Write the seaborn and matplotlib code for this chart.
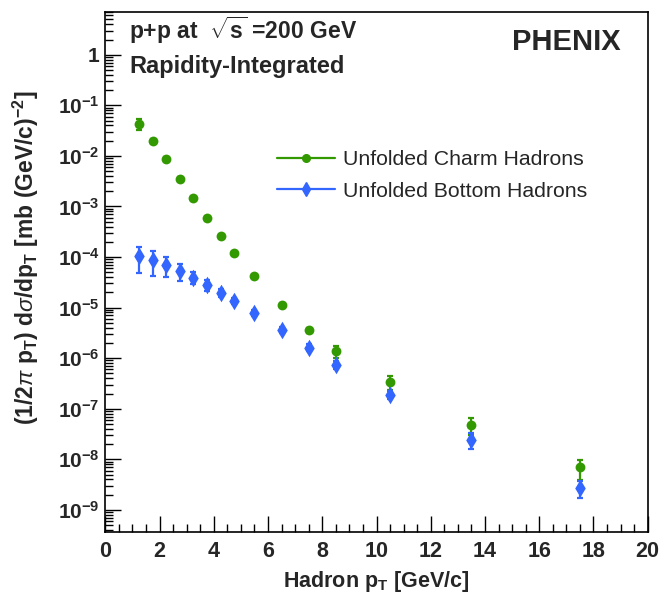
import numpy as np
import pandas as pd
import matplotlib
matplotlib.use("Agg")
import matplotlib.pyplot as plt
import matplotlib.ticker as mticker
from matplotlib.lines import Line2D
import seaborn as sns

# données (PHENIX, p+p à 200 GeV)
pt = [1.25, 1.75, 2.25, 2.75, 3.25, 3.75, 4.25, 4.75, 5.5, 6.5, 7.5, 8.5, 10.5, 13.5, 17.5]
charm = [4.27e-2, 2.0e-2, 8.7e-3, 3.55e-3, 1.45e-3, 5.9e-4, 2.58e-4, 1.19e-4, 4.2e-5,
         1.11e-5, 3.57e-6, 1.37e-6, 3.36e-7, 4.74e-8, 6.9e-9]
charm_err = [1.0e-2, 1.5e-3, 6e-4, 2.5e-4, 1e-4, 4e-5, 1.8e-5, 8e-6, 3e-6,
             1e-6, 4e-7, 3.7e-7, 1e-7, 1.7e-8, 3e-9]
bottom = [1.04e-4, 8.65e-5, 6.98e-5, 5.3e-5, 3.92e-5, 2.85e-5, 1.98e-5, 1.36e-5, 7.86e-6,
          3.62e-6, 1.62e-6, 7.4e-7, 1.91e-7, 2.43e-8, 2.7e-9]
bottom_err = [5.5e-5, 4.4e-5, 3.0e-5, 2.0e-5, 1.05e-5, 7e-6, 3.5e-6, 2e-6, 1e-6,
              5e-7, 2.5e-7, 1.2e-7, 3.5e-8, 8.5e-9, 1.0e-9]

labels = ["Unfolded Charm Hadrons", "Unfolded Bottom Hadrons"]
couleurs = {"Unfolded Charm Hadrons": "#339900", "Unfolded Bottom Hadrons": "#3366ff"}

df = pd.concat([
    pd.DataFrame({"pt": pt, "xs": charm, "err": charm_err, "type": labels[0]}),
    pd.DataFrame({"pt": pt, "xs": bottom, "err": bottom_err, "type": labels[1]}),
])

sns.set_theme(style="ticks")
plt.rcParams["font.family"] = ["Liberation Sans", "DejaVu Sans"]
plt.rcParams["mathtext.fontset"] = "custom"
plt.rcParams["mathtext.rm"] = "Liberation Sans"
plt.rcParams["mathtext.it"] = "Liberation Sans:italic"
plt.rcParams["mathtext.bf"] = "Liberation Sans:bold"

W, H = 659, 597
fig = plt.figure(figsize=(W / 100, H / 100), dpi=100)
ax = fig.add_axes([105.3 / W, 1 - 531.7 / H, (647.7 - 105.3) / W, (531.7 - 12) / H])

# barres d'erreur
for lab in labels:
    d = df[df["type"] == lab]
    ax.errorbar(d["pt"], d["xs"], yerr=d["err"], fmt="none", ecolor=couleurs[lab],
                elinewidth=1.6, capsize=2.2, capthick=1.6, zorder=2)

sns.scatterplot(data=df[df["type"] == labels[0]], x="pt", y="xs", color=couleurs[labels[0]],
                marker="o", s=50, linewidth=0, ax=ax, zorder=3, legend=False)
sns.scatterplot(data=df[df["type"] == labels[1]], x="pt", y="xs", color=couleurs[labels[1]],
                marker="d", s=80, linewidth=0, ax=ax, zorder=3, legend=False)

ax.set_yscale("log")
ax.set_xlim(0, 20)
ax.set_ylim(3.7e-10, 7.0)

ax.xaxis.set_major_locator(mticker.MultipleLocator(2))
ax.xaxis.set_minor_locator(mticker.MultipleLocator(0.5))
ax.yaxis.set_major_locator(mticker.FixedLocator([10.0 ** k for k in range(-9, 1)]))
ax.yaxis.set_minor_locator(mticker.LogLocator(base=10, subs=np.arange(2, 10), numticks=100))
ax.yaxis.set_minor_formatter(mticker.NullFormatter())


def fmt_y(v, pos):
    e = int(round(np.log10(v)))
    if e == 0:
        return "1"
    return r"$\mathbf{10^{%d}}$" % e


ax.yaxis.set_major_formatter(mticker.FuncFormatter(fmt_y))
ax.xaxis.set_major_formatter(mticker.FuncFormatter(lambda v, p: "%d" % v))

ax.tick_params(which="both", direction="in", top=False, right=False, width=1, color="black")
ax.tick_params(which="major", length=11.5)
ax.tick_params(which="minor", length=5.5)
ax.tick_params(axis="x", which="major", labelsize=15.5, pad=7)
ax.tick_params(axis="y", which="major", labelsize=15, pad=4)
for lab in ax.get_xticklabels() + ax.get_yticklabels():
    lab.set_fontweight("bold")
for s in ax.spines.values():
    s.set_color("black")
    s.set_linewidth(1.2)

ax.set_xlabel(r"Hadron $\mathbf{p_{T}}$ [GeV/c]", fontsize=15.5, fontweight="bold")
ax.set_ylabel(r"(1/2$\pi$ $\mathbf{p_{T}}$) d$\sigma$/d$\mathbf{p_{T}}$ [mb (GeV/c)$\mathbf{^{-2}}$]",
              fontsize=16.5, fontweight="bold")
ax.xaxis.set_label_coords(0.5, -0.072)
ax.yaxis.set_label_coords(-0.118, 0.527)

fig.text(129 / W, 1 - 38.5 / H, r"p+p at  $\mathbf{\sqrt{s}}$ =200 GeV", fontsize=16.5,
         fontweight="bold", ha="left", va="baseline")
fig.text(129 / W, 1 - 73.5 / H, "Rapidity-Integrated", fontsize=17, fontweight="bold",
         ha="left", va="baseline")
fig.text(621 / W, 1 - 50 / H, "PHENIX", fontsize=21, fontweight="bold", ha="right", va="baseline")

# légende
handles = [Line2D([], [], color=couleurs[labels[0]], marker="o", ms=5.5, lw=1.6),
           Line2D([], [], color=couleurs[labels[1]], marker="d", ms=7, lw=1.6)]
ax.legend(handles, labels, loc="upper left", bbox_to_anchor=(277 / W, 1 - 150 / H),
          bbox_transform=fig.transFigure, frameon=False, fontsize=15.3, handlelength=2.75,
          handletextpad=0.35, labelspacing=0.6, borderpad=0, borderaxespad=0)

fig.savefig("out.png", dpi=100)
